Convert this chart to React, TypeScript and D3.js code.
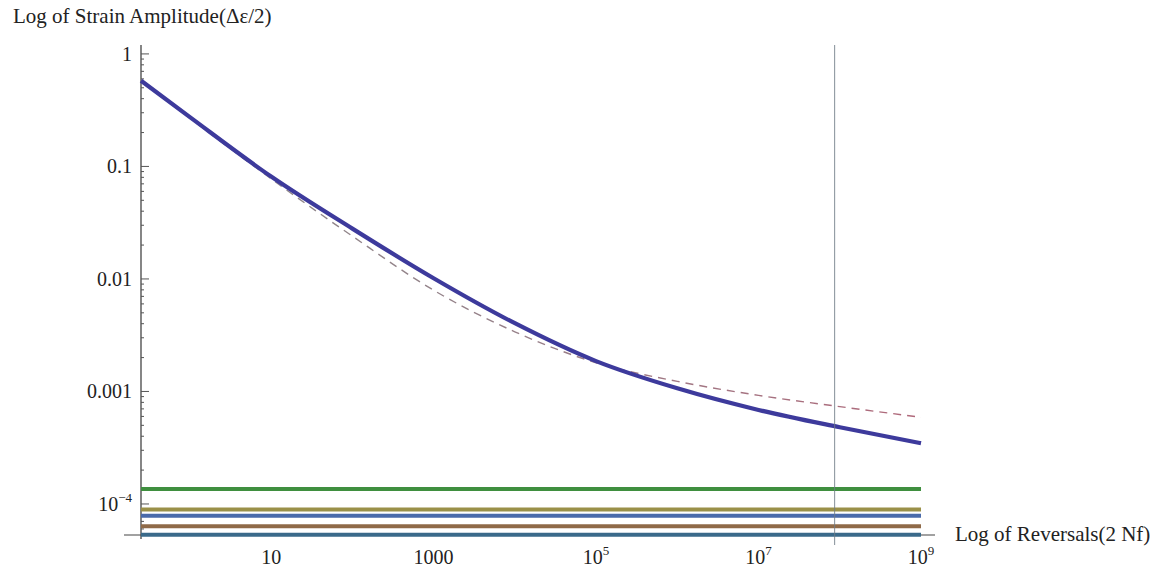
import React, { useRef, useEffect } from 'react'
import * as d3 from 'd3'

// points: reversals (2 Nf) vs strain amplitude
const reversals = [0.25, 1, 10, 100, 1000, 1e4, 1e5, 1e6, 1e7, 1e8, 1e9]
const solidStrain = [0.578, 0.274, 0.0813, 0.028, 0.01014, 0.00404, 0.00186, 0.001066, 0.000685, 0.000481, 0.000347]
const dashedStrain = [0.578, 0.269, 0.0776, 0.024, 0.00794, 0.00339, 0.0018, 0.00123, 0.000923, 0.000733, 0.00059]

// flat limit lines near the bottom
const limitLevels = [1.36e-4, 8.93e-5, 7.85e-5, 6.33e-5, 5.32e-5]
const limitColors = ['#3f8f3f', '#9a9048', '#4a6aaa', '#8f6a48', '#3a6a8a']

const markerReversals = 8.65e7

const xDomain = [0.25, 1e9]
const yDomain = [5.3e-5, 1.2]

const yTicks = [1, 0.1, 0.01, 0.001, 1e-4]
const yTickLabels = [['1'], ['0.1'], ['0.01'], ['0.001'], ['10', '\u22124']]
const xTicks = [10, 1000, 1e5, 1e7, 1e9]
const xTickLabels = [['10'], ['1000'], ['10', '5'], ['10', '7'], ['10', '9']]

const FONT = '"Liberation Serif", "Times New Roman", serif'

export default function App() {
  const ref = useRef<SVGSVGElement>(null)

  useEffect(() => {
    if (!ref.current) return
    const svg = d3.select(ref.current)
    svg.selectAll('*').remove()

    const x = d3.scaleLog().domain(xDomain).range([141, 921])
    const y = d3.scaleLog().domain(yDomain).range([535, 45])

    const x0 = x(xDomain[0])
    const x1 = x(xDomain[1])
    const yBottom = y(yDomain[0])
    const yTop = y(yDomain[1])

    const defs = svg.append('defs')
    const grad = defs
      .append('linearGradient')
      .attr('id', 'dashGrad')
      .attr('gradientUnits', 'userSpaceOnUse')
      .attr('x1', x0)
      .attr('x2', x1)
      .attr('y1', 0)
      .attr('y2', 0)
    grad.append('stop').attr('offset', 0).attr('stop-color', '#8a8a8a')
    grad.append('stop').attr('offset', 0.5).attr('stop-color', '#978089')
    grad.append('stop').attr('offset', 1).attr('stop-color', '#b0687a')

    // axes
    svg
      .append('line')
      .attr('x1', x0)
      .attr('x2', x0)
      .attr('y1', yTop)
      .attr('y2', yBottom + 4)
      .attr('stroke', '#444')
      .attr('stroke-width', 1.3)
    svg
      .append('line')
      .attr('x1', x0 - 17)
      .attr('x2', x1 + 14)
      .attr('y1', yBottom)
      .attr('y2', yBottom)
      .attr('stroke', '#444')
      .attr('stroke-width', 1.1)

    // y ticks, major and minor
    const minor: number[] = []
    for (let k = -5; k <= 0; k++) {
      for (let m = 2; m <= 9; m++) {
        const v = m * Math.pow(10, k)
        if (v > yDomain[0] && v < yDomain[1]) minor.push(v)
      }
    }
    svg
      .selectAll('line.ymin')
      .data(minor)
      .join('line')
      .attr('class', 'ymin')
      .attr('x1', x0)
      .attr('x2', x0 + 3)
      .attr('y1', d => y(d))
      .attr('y2', d => y(d))
      .attr('stroke', '#555')
      .attr('stroke-width', 1)
    svg
      .selectAll('line.ymaj')
      .data(yTicks)
      .join('line')
      .attr('class', 'ymaj')
      .attr('x1', x0)
      .attr('x2', x0 + 8)
      .attr('y1', d => y(d))
      .attr('y2', d => y(d))
      .attr('stroke', '#555')
      .attr('stroke-width', 1)

    const yLab = svg
      .selectAll('text.ylab')
      .data(yTicks)
      .join('text')
      .attr('class', 'ylab')
      .attr('x', x0 - 9)
      .attr('y', d => y(d) + 7)
      .attr('text-anchor', 'end')
      .attr('font-family', FONT)
      .attr('font-size', 20)
      .attr('fill', '#222')
    yLab.each(function (d, i) {
      const parts = yTickLabels[i]
      const t = d3.select(this)
      t.append('tspan').text(parts[0])
      if (parts[1]) t.append('tspan').attr('dy', -9).attr('font-size', 13).text(parts[1])
    })

    const xLab = svg
      .selectAll('text.xlab')
      .data(xTicks)
      .join('text')
      .attr('class', 'xlab')
      .attr('x', d => x(d))
      .attr('y', yBottom + 29)
      .attr('text-anchor', 'middle')
      .attr('font-family', FONT)
      .attr('font-size', 20)
      .attr('fill', '#222')
    xLab.each(function (d, i) {
      const parts = xTickLabels[i]
      const t = d3.select(this)
      t.append('tspan').text(parts[0])
      if (parts[1]) t.append('tspan').attr('dy', -9).attr('font-size', 13).text(parts[1])
    })

    // flat lines
    svg
      .selectAll('line.limit')
      .data(limitLevels)
      .join('line')
      .attr('class', 'limit')
      .attr('x1', x0)
      .attr('x2', x1)
      .attr('y1', d => y(d))
      .attr('y2', d => y(d))
      .attr('stroke', (d, i) => limitColors[i])
      .attr('stroke-width', 4)

    const line = d3
      .line<[number, number]>()
      .x(d => x(d[0]))
      .y(d => y(d[1]))
      .curve(d3.curveMonotoneX)

    svg
      .append('path')
      .attr('d', line(reversals.map((r, i) => [r, dashedStrain[i]])))
      .attr('fill', 'none')
      .attr('stroke', 'url(#dashGrad)')
      .attr('stroke-width', 1.4)
      .attr('stroke-dasharray', '8,6')

    svg
      .append('path')
      .attr('d', line(reversals.map((r, i) => [r, solidStrain[i]])))
      .attr('fill', 'none')
      .attr('stroke', '#3d3a9c')
      .attr('stroke-width', 4.2)

    // vertical marker
    svg
      .append('line')
      .attr('x1', x(markerReversals))
      .attr('x2', x(markerReversals))
      .attr('y1', yTop)
      .attr('y2', yBottom + 10)
      .attr('stroke', '#6f7a86')
      .attr('stroke-opacity', 0.85)
      .attr('stroke-width', 1)

    // axis titles
    svg
      .append('text')
      .attr('x', 13)
      .attr('y', 23)
      .attr('font-family', FONT)
      .attr('font-size', 21)
      .attr('fill', '#222')
      .text('Log of Strain Amplitude(\u0394\u03b5/2)')
    svg
      .append('text')
      .attr('x', x1 + 34)
      .attr('y', yBottom + 6)
      .attr('font-family', FONT)
      .attr('font-size', 21)
      .attr('fill', '#222')
      .text('Log of Reversals(2 Nf)')
  }, [])

  return (
    <svg
      ref={ref}
      width={1159}
      height={575}
      style={{ position: 'absolute', left: 0, top: 0, background: '#fff' }}
    />
  )
}
